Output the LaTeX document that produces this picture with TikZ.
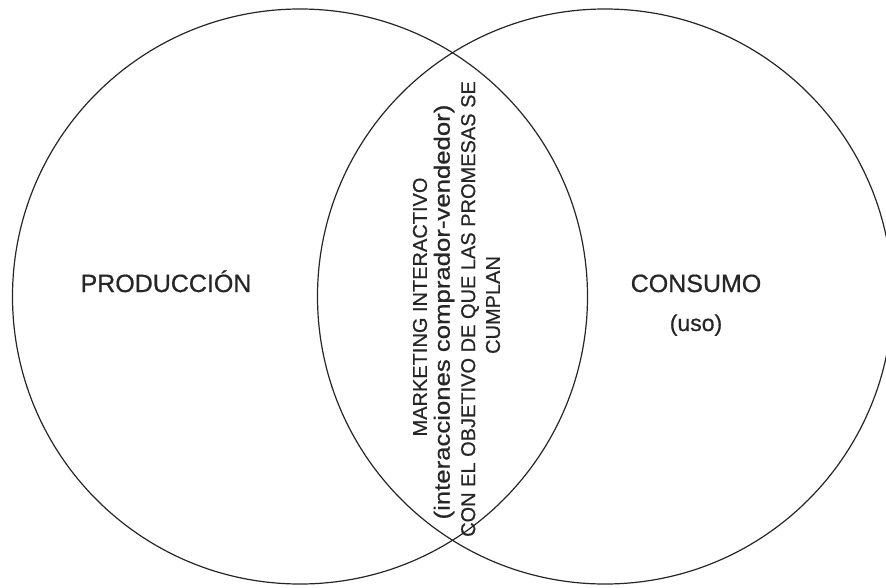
\documentclass[tikz,border=0pt]{standalone}
\usepackage{fontspec}
\setmainfont{Liberation Sans}
\newfontfamily\lblfont[FakeBold=0.6]{Liberation Sans}
\begin{document}
\begin{tikzpicture}[x=1pt,y=1pt,
  ring/.style={draw=black!85,line width=1.2pt},
  biglabel/.style={font=\lblfont\fontsize{25}{30}\selectfont,text=black!85,inner sep=0pt,anchor=base},
  midline/.style={font=\lblfont\fontsize{20}{24}\selectfont,text=black!85,inner sep=0pt,rotate=90,anchor=center}]
\useasboundingbox (0,0) rectangle (886,-587);
\clip (0,0) rectangle (886,-587);
\node[ring,circle,minimum size=575pt,inner sep=0pt] (left) at (300,-296.5) {};
\node[ring,circle,minimum size=575pt,inner sep=0pt] (right) at (605,-296.5) {};
\node[biglabel] (prod) at (166,-292) {PRODUCCIÓN};
\node[biglabel] (cons) at (696,-292) {CONSUMO};
\node[biglabel,font=\lblfont\fontsize{23}{27}\selectfont] (uso) at (696,-331) {(uso)};
\node[midline] (m1) at (420,-307) {MARKETING INTERACTIVO};
\node[midline,font=\lblfont\fontsize{22}{26}\selectfont] (m2) at (444,-312) {\scalebox{1.17}[1]{(interacciones comprador-vendedor)}};
\node[midline] (m3) at (470,-309) {CON EL OBJETIVO DE QUE LAS PROMESAS SE};
\node[midline] (m4) at (493,-305) {CUMPLAN};
\end{tikzpicture}
\end{document}
